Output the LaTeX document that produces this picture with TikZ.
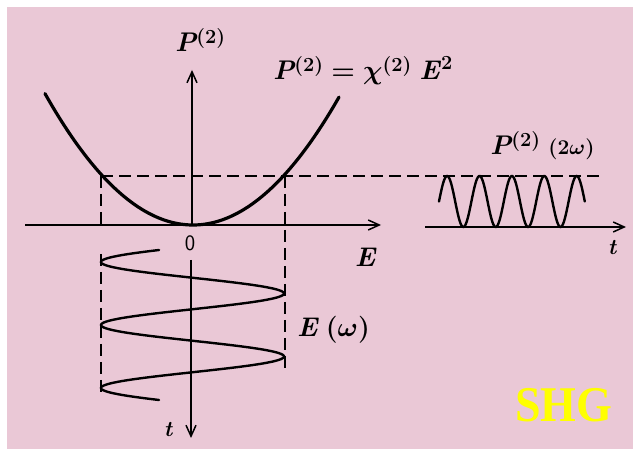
\documentclass[tikz,border=0pt]{standalone}
\usepackage{fix-cm}
\usepackage{amsmath}
\usepackage{fontspec}
\newfontfamily\shgfont{Liberation Serif}
\usetikzlibrary{arrows.meta}
\definecolor{bgpink}{RGB}{234,200,214}
\definecolor{shgyellow}{RGB}{255,255,0}
\newcommand\BI[1]{{\bfseries\itshape #1}}
\newcommand\SupTwo{\raisebox{8pt}{\fontsize{20}{24}\selectfont\bfseries\upshape(2)}}
\newcommand\SupSq{\raisebox{10pt}{\fontsize{20}{24}\selectfont\bfseries\upshape 2}}
\tikzset{
  axisline/.style={line width=1.6pt, -{Straight Barb[length=11pt,width=10pt,line width=1.5pt]}},
  guide/.style={line width=1.4pt, dash pattern=on 12pt off 6pt},
  curve/.style={line width=3.2pt, line cap=round},
  wave/.style={line width=2.4pt, line cap=round},
  lab/.style={inner sep=0pt, font=\fontsize{27}{32}\selectfont},
  smalllab/.style={inner sep=0pt, font=\fontsize{22}{26}\selectfont},
  shg/.style={inner sep=0pt, text=shgyellow, font=\shgfont\bfseries\fontsize{50}{56}\selectfont, xscale=0.92}
}
\begin{document}
\begin{tikzpicture}[x=1pt,y=-1pt]
\useasboundingbox (0,0) rectangle (633,465);
\fill[white] (0,0) rectangle (633,465);
\fill[bgpink] (7,7) rectangle (633,449);

% coordinates
\coordinate (ex0) at (25,225);
\coordinate (ex1) at (381,225);
\coordinate (py0) at (192,225);
\coordinate (py1) at (192,70);
\coordinate (ty0) at (191,260);
\coordinate (ty1) at (191,438);
\coordinate (rt0) at (425,227);
\coordinate (rt1) at (626,227);
\coordinate (hd0) at (101,176);
\coordinate (hd1) at (603,176);
\coordinate (ld1) at (101,225);
\coordinate (ld2) at (101,254);
\coordinate (ld3) at (101,397);
\coordinate (rd0) at (285,176);
\coordinate (rd1) at (285,368);

% dashed guides
\draw[guide] (hd0) -- (hd1);
\draw[guide] (hd0) -- (ld1);
\draw[guide] (ld2) -- (ld3);
\draw[guide] (rd0) -- (rd1);

% axes
\draw[axisline] (ex0) -- (ex1);
\draw[axisline] (py0) -- (py1);
\draw[axisline] (ty0) -- (ty1);
\draw[axisline] (rt0) -- (rt1);

% parabola
\draw[curve] plot[domain=-148:146, samples=120, smooth] ({193+\x}, {225-(0.0774597*\x)*(0.0774597*\x)});

% output wave (2 omega)
\draw[wave] plot[domain=0:145.8, samples=200, smooth] ({439+\x}, {201.5-25.5*sin(11.1111*\x)});

% input wave (omega)
\draw[wave] plot[domain=-12:138, samples=200, smooth] ({192.5-91.5*cos(5.71429*\x)}, {262+\x});

% labels
\node[lab, anchor=base west] (ptop) at (175,52) {\BI{P}\SupTwo};
\node[lab, anchor=base west] (eqn) at (273,80) {\BI{P}\SupTwo\ {\bfseries =} $\boldsymbol{\chi}$\SupTwo\ \BI{E\/}\SupSq};
\node[lab, anchor=base west] (p2w) at (490,155) {\BI{P}\SupTwo\ {\fontsize{21}{26}\selectfont\bfseries(2$\boldsymbol{\omega}$)}};
\node[smalllab] (zero) at (190,243) {\sffamily 0};
\node[lab] (elab) at (365,257) {\BI{E}};
\node[lab, anchor=west] (ew) at (297,330) {\BI{E} {\bfseries($\boldsymbol{\omega}$)}};
\node[smalllab] (tbot) at (168,430) {\BI{t}};
\node[smalllab] (tright) at (612,248) {\BI{t}};
\node[shg, anchor=base west] (shgl) at (515,422) {SHG};
\end{tikzpicture}
\end{document}
